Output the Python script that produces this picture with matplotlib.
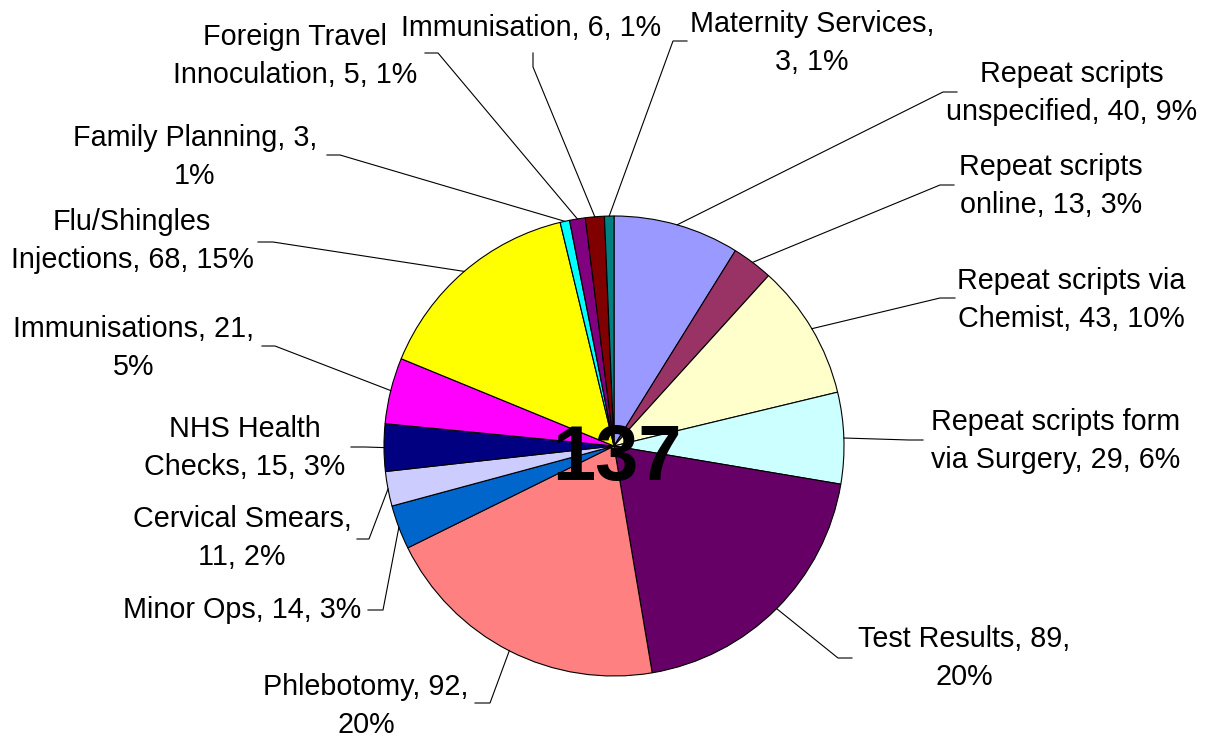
import numpy as np
import matplotlib
matplotlib.use("Agg")
import matplotlib.pyplot as plt

# --- data (clockwise from 12 o'clock) ---
categories = ["Repeat scripts unspecified", "Repeat scripts online",
              "Repeat scripts via Chemist", "Repeat scripts form via Surgery",
              "Test Results", "Phlebotomy", "Minor Ops", "Cervical Smears",
              "NHS Health Checks", "Immunisations", "Flu/Shingles Injections",
              "Family Planning", "Foreign Travel Innoculation", "Immunisation",
              "Maternity Services"]
values = [40, 13, 43, 29, 89, 92, 14, 11, 15, 21, 68, 3, 5, 6, 3]
centre_text = "137"

colors = ["#9999FF", "#993366", "#FFFFCC", "#CCFFFF", "#660066", "#FF8080",
          "#0066CC", "#CCCCFF", "#000080", "#FF00FF", "#FFFF00", "#00FFFF",
          "#800080", "#800000", "#008080"]

# --- layout (pixel coords, y measured from the top) ---
W, H = 1219, 737
pie_c = (614, 446)
pie_r = 230
# word index after which each label wraps (0 = single line)
breaks = [2, 2, 3, 3, 3, 2, 0, 2, 2, 2, 1, 3, 2, 0, 2]
label_xy = [(1072, 93), (1051, 186), (1071, 300), (1056, 441), (964, 658),
            (366, 706), (242, 610), (242, 538), (245, 448), (134, 348),
            (132, 241), (195, 157), (295, 56), (531, 28), (812, 43)]
knees = [[(943, 92), (957, 92)], [(940, 185), (954, 185)],
         [(940, 298), (955, 298)], [(909, 440), (923, 440)],
         [(838, 658), (852, 658)], [(490, 703), (475, 703)],
         [(383, 610), (368, 610)], [(369, 539), (357, 539)],
         [(365, 447), (351, 447)], [(275, 346), (262, 346)],
         [(273, 242), (258, 242)], [(340, 155), (327, 155)],
         [(438, 53), (425, 53)], [(533, 67), (533, 53)],
         [(673, 41), (687, 41)]]

FONT = ["Liberation Sans", "DejaVu Sans"]


def Y(y):
    return H - y


fig = plt.figure(figsize=(W / 100, H / 100), dpi=100)
ax = fig.add_axes([0, 0, 1, 1])

ax.pie(values, colors=colors, startangle=90, counterclock=False,
       center=(pie_c[0], Y(pie_c[1])), radius=pie_r,
       wedgeprops=dict(edgecolor="black", linewidth=0.8))
ax.set_xlim(0, W)
ax.set_ylim(0, H)
ax.set_aspect("equal")
ax.axis("off")

total = sum(values)
cum = np.cumsum([0] + values)
for i, (cat, v) in enumerate(zip(categories, values)):
    pct = int(round(v / total * 100))
    words = f"{cat}, {v}, {pct}%".split(" ")
    b = breaks[i]
    txt = " ".join(words) if b == 0 else " ".join(words[:b]) + "\n" + " ".join(words[b:])

    # leader: pie edge at slice middle -> knee -> label
    ang = np.deg2rad((cum[i] + v / 2) / total * 360)
    sx = pie_c[0] + pie_r * np.sin(ang)
    sy = pie_c[1] - pie_r * np.cos(ang)
    (ax1, ay1), (ax2, ay2) = knees[i]
    ax.plot([sx, ax1, ax2], [Y(sy), Y(ay1), Y(ay2)], color="black", lw=0.8)

    tx, ty = label_xy[i]
    ax.text(tx, Y(ty), txt, ha="center", va="center", multialignment="center",
            fontsize=20.7, family=FONT, linespacing=1.48, color="black")

ax.text(617, Y(480), centre_text, ha="center", va="baseline",
        fontsize=56, fontweight="bold", family=FONT, color="black")

fig.savefig("out.png", dpi=100, facecolor="white")
